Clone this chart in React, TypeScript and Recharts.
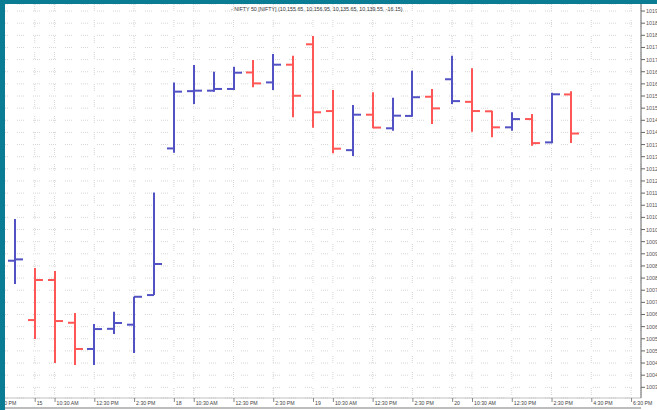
import React from "react";
import { ComposedChart, Bar, XAxis, YAxis, CartesianGrid } from "recharts";

// hourly NIFTY 50 bars, Sep 14 15:30 -> Sep 20 15:30
const barOpen = [10087.15, 10062.7, 10079.2, 10061.6, 10050.8, 10059.1, 10060.8, 10073.0, 10133.4, 10157.0, 10157.2, 10157.9, 10164.7, 10160.6, 10167.9, 10176.3, 10148.8, 10132.7, 10147.3, 10141.7, 10146.8, 10154.7, 10161.9, 10152.6, 10148.7, 10142.1, 10145.5, 10135.9, 10155.65];
const barHigh = [10104.3, 10084.1, 10082.9, 10065.6, 10061.1, 10066.1, 10072.3, 10115.2, 10160.6, 10167.8, 10165.0, 10167.1, 10169.8, 10172.3, 10171.6, 10179.7, 10157.5, 10151.3, 10156.5, 10154.3, 10165.4, 10157.9, 10171.6, 10166.4, 10148.9, 10148.3, 10147.6, 10156.3, 10156.95];
const barLow = [10077.55, 10054.9, 10045.0, 10044.2, 10044.2, 10056.95, 10049.1, 10073.0, 10131.6, 10151.7, 10156.8, 10157.5, 10158.6, 10157.5, 10146.2, 10141.9, 10131.4, 10130.3, 10141.7, 10140.7, 10146.5, 10143.5, 10151.7, 10140.3, 10138.0, 10140.7, 10134.5, 10135.5, 10135.65];
const barClose = [10087.7, 10079.2, 10062.3, 10050.8, 10059.0, 10061.5, 10072.3, 10085.8, 10156.8, 10157.2, 10157.9, 10164.6, 10160.2, 10167.9, 10155.1, 10148.3, 10133.3, 10147.3, 10142.0, 10146.9, 10154.5, 10149.9, 10152.9, 10148.8, 10142.1, 10145.5, 10135.6, 10155.7, 10139.55];

// time slots on the axis (one per hour), -1 and 29..31 are empty
const firstSlot = -1;
const lastSlot = 31;

const xTickSlots = [-1, 1, 2, 4, 6, 8, 9, 11, 13, 15, 16, 18, 20, 22, 23, 25, 27, 29, 31];
const xTickLabels = ["2:30 PM", "15", "10:30 AM", "12:30 PM", "2:30 PM", "18", "10:30 AM", "12:30 PM", "2:30 PM", "19", "10:30 AM", "12:30 PM", "2:30 PM", "20", "10:30 AM", "12:30 PM", "2:30 PM", "4:30 PM", "6:30 PM"];

const yTicks = [10035, 10040, 10045, 10050, 10055, 10060, 10065, 10070, 10075, 10080, 10085, 10090, 10095, 10100, 10105, 10110, 10115, 10120, 10125, 10130, 10135, 10140, 10145, 10150, 10155, 10160, 10165, 10170, 10175, 10180, 10185, 10190];

const title = "- NIFTY 50 [NIFTY] (10,155.65, 10,156.95, 10,135.65, 10,139.55, -16.15)";

const UP = "#5252c4";
const DOWN = "#ff5656";
const TEAL = "#0a7c93";
const FONT = "'Liberation Sans', Arial, sans-serif";

const chartData: any[] = [];
for (let s = firstSlot; s <= lastSlot; s++) {
  if (s >= 0 && s < barClose.length) {
    const prev = s === 0 ? barOpen[0] : barClose[s - 1];
    chartData.push({
      slot: s,
      open: barOpen[s],
      high: barHigh[s],
      low: barLow[s],
      close: barClose[s],
      range: [barLow[s], barHigh[s]],
      up: barClose[s] >= prev,
    });
  } else {
    chartData.push({ slot: s });
  }
}

function OhlcShape(props: any) {
  const { x, y, width, height, payload } = props;
  if (!payload || payload.high == null) return null;
  const top = Math.min(y, y + height);
  const span = Math.abs(height);
  const range = payload.high - payload.low || 1;
  const yAt = (v: number) => top + ((payload.high - v) / range) * span;
  const cx = Math.round(x + width / 2);
  const color = payload.up ? UP : DOWN;
  return (
    <g stroke={color} strokeWidth={2}>
      <line x1={cx} x2={cx} y1={top} y2={top + span} />
      <line x1={cx - 7} x2={cx} y1={yAt(payload.open)} y2={yAt(payload.open)} />
      <line x1={cx} x2={cx + 8} y1={yAt(payload.close)} y2={yAt(payload.close)} />
    </g>
  );
}

function XTick(props: any) {
  const { x, y, payload } = props;
  const i = xTickSlots.indexOf(payload.value);
  if (i < 0) return null;
  return (
    <g>
      <line x1={x + 0.5} x2={x + 0.5} y1={y} y2={y + 4} stroke="#888" />
      <text x={x + 2} y={y + 6.5} fontSize={5.2} fill="#444" fontFamily={FONT}>
        {xTickLabels[i]}
      </text>
    </g>
  );
}

function YTick(props: any) {
  const { x, y, payload } = props;
  return (
    <text x={x + 1} y={y} dy={2} fontSize={5.4} fill="#555" fontFamily={FONT}>
      {payload.value.toFixed(2)}
    </text>
  );
}

export default function App() {
  return (
    <div style={{ position: "fixed", left: 0, top: 0, width: 657, height: 410, overflow: "hidden", background: "#fff" }}>
      <div style={{ position: "absolute", left: -15, top: 0 }}>
        <ComposedChart width={672} height={410} data={chartData} margin={{ top: 4, right: 0, bottom: 0, left: 0 }}>
          <CartesianGrid stroke="#d6d6d6" strokeDasharray="1 1 1 1 1 1 1 9" />
          <XAxis
            dataKey="slot"
            type="category"
            ticks={xTickSlots}
            interval={0}
            height={12}
            tickSize={0}
            tickMargin={0}
            tickLine={false}
            axisLine={{ stroke: "#c0c0c0" }}
            tick={<XTick />}
          />
          <YAxis
            orientation="right"
            width={16}
            domain={[10030.6, 10192.9]}
            allowDataOverflow
            ticks={yTicks}
            interval={0}
            tickSize={4}
            tickMargin={0}
            tickLine={{ stroke: "#666" }}
            axisLine={{ stroke: "#666" }}
            tick={<YTick />}
          />
          <Bar dataKey="range" barSize={8} shape={<OhlcShape />} isAnimationActive={false} />
        </ComposedChart>
      </div>
      <svg width={657} height={410} style={{ position: "absolute", left: 0, top: 0, pointerEvents: "none" }}>
        <text x={231} y={11} fontSize={5.3} fill="#333" fontFamily={FONT}>
          {title}
        </text>
      </svg>
      <div style={{ position: "absolute", left: 0, top: 0, width: 657, height: 4, background: TEAL }} />
      <div style={{ position: "absolute", left: 0, top: 0, width: 5, height: 410, background: TEAL }} />
      <div style={{ position: "absolute", left: 5, top: 407, width: 636, height: 2, background: "#bdbdbd" }} />
    </div>
  );
}
